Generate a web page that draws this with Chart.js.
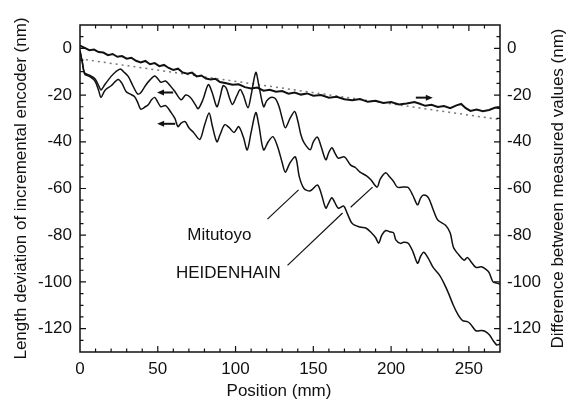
<!DOCTYPE html>
<html>
<head>
<meta charset="utf-8">
<script src="https://cdn.jsdelivr.net/npm/chart.js@4/dist/chart.umd.min.js"></script>
<style>
  html, body { margin: 0; padding: 0; background: #fff; }
  #wrap { width: 570px; height: 405px; }
</style>
</head>
<body>
<div id="wrap"><canvas id="chart"></canvas></div>
<script>
// upper curve (HEIDENHAIN), left axis
const posHeid = [0, 1.5, 3, 6, 9.6, 12, 13.5, 16, 20, 23, 26, 28, 31, 34, 37, 39, 42, 45, 48, 50, 52, 55, 58, 61, 65, 68, 71, 74, 76, 79, 82.5, 85, 88, 90, 92, 94, 96, 98, 101, 103, 105, 108, 110, 113, 115, 118, 120, 122.5, 125.5, 128, 130, 132, 135, 138, 140, 142, 144, 148, 150, 152.6, 155, 158, 160, 162, 164, 166, 170, 174, 177, 180, 184, 187, 191, 193, 196.5, 199, 201.6, 204, 208, 211, 214, 217, 219, 221, 224, 227, 230, 235, 238, 240, 243, 247, 249, 251, 254.5, 258, 261, 263, 265.5, 268, 270];
const devHeid = [-1, -6, -10.5, -11.5, -13, -16, -17.8, -15.5, -12, -10, -8.8, -10, -12, -16, -19.5, -19, -16, -13.5, -11.8, -13, -14.5, -14, -16, -18.5, -22, -20, -21, -24, -25.8, -22, -15.5, -19, -25, -21, -16, -17, -21, -24, -20, -17.6, -20, -25.4, -20, -10.3, -16, -25, -22.5, -21, -21.5, -25, -30, -34, -30, -27, -31, -37, -40.4, -43.4, -40, -38, -42, -47.7, -44.5, -42.6, -45, -47, -46.5, -50, -51, -53, -54.5, -56.3, -59.4, -56, -53.3, -55, -57, -59.4, -59.4, -59.6, -63, -67, -64, -62.8, -64, -69, -73.5, -75.7, -79, -85, -88, -90.7, -89.5, -91, -93.8, -93.5, -94.6, -96, -100, -100.5, -101];

// lower curve (Mitutoyo), left axis
const posMitu = [0, 1.5, 3, 6, 9.6, 12, 13.5, 16, 20, 24.5, 27, 29.6, 32, 35, 37, 39, 42, 44, 46, 48, 50, 52, 55, 58.6, 61, 63, 65, 67.6, 70, 73, 77, 80, 83, 85, 88, 90, 93, 96, 99, 102, 105, 107.5, 110, 113, 115, 118, 121, 124, 127, 130, 132, 135, 138.5, 141, 144, 148, 152.6, 155, 158, 160, 162, 166, 169.5, 172, 175, 180, 184, 187, 190, 192, 194, 196.5, 199, 201.6, 203, 206, 208, 211, 214, 217, 219, 221, 224, 227, 231, 234, 237, 240, 243, 246, 249, 251, 254.5, 258, 260, 263, 265.5, 268, 270];
const devMitu = [-1, -6, -11, -12, -14, -18, -21, -18, -16, -13.3, -15, -18.5, -19.5, -20.6, -23, -26, -25, -24, -22, -21, -23, -25, -24.5, -27.5, -30, -33.5, -32, -31.4, -34, -36, -39, -33, -27.7, -33, -40, -37, -32.7, -34, -36, -33.5, -38, -43.5, -36, -27.5, -33, -43.5, -40, -37.8, -42, -49, -53, -49, -46.5, -55, -60, -61, -58.5, -62, -68.4, -66, -64, -68.4, -67.5, -71, -75, -76.5, -77, -78.7, -81, -83.4, -80, -78, -78.5, -79, -82, -83.5, -83, -83.4, -87, -92, -89, -87.3, -90, -93.8, -97, -100.6, -105, -110, -114, -116.6, -117, -118, -120.9, -120.8, -121, -122.5, -125, -127, -126.5];

// difference between measured values, right axis
const posDiff = [0, 3, 6, 9, 12, 15, 18, 21, 24, 27, 30, 33, 36, 39, 42, 45, 48, 51, 54, 57, 60, 63, 66, 69, 72, 75, 78, 81, 84, 87, 90, 94, 98, 102, 106, 110, 114, 118, 122, 126, 130, 134, 138, 142, 146, 150, 155, 160, 165, 170, 175, 180, 185, 190, 195, 200, 205, 210, 215, 218, 222, 226, 230, 234, 238, 242, 245, 248, 251, 255, 259, 263, 267, 270];
const diffVal = [1.2, 0.2, -0.8, -0.5, -1.6, -1.8, -2.9, -2.4, -3.6, -3.3, -4.4, -4.0, -5.3, -6.0, -5.4, -6.8, -6.3, -7.6, -7.1, -8.4, -9.2, -8.7, -10.3, -10.9, -10.4, -12.0, -11.6, -12.9, -13.3, -13.0, -14.4, -14.9, -15.6, -15.4, -16.6, -17.2, -16.8, -18.1, -17.7, -18.6, -18.3, -19.4, -18.9, -19.8, -19.3, -20.3, -20.0, -21.1, -20.7, -21.8, -22.2, -21.7, -22.9, -22.4, -23.4, -23.0, -24.0, -23.6, -23.0, -23.6, -24.6, -24.2, -25.1, -24.7, -25.6, -24.4, -23.8, -25.6, -26.8, -26.2, -26.9, -26.4, -25.3, -25.7];

// dotted linear trend of the difference
const trendPos = [0, 270];
const trendVal = [-4.5, -30.5];

// axis ticks
const xTicks = [0, 50, 100, 150, 200, 250];
const yTicks = [-120, -100, -80, -60, -40, -20, 0];

// annotations (data coordinates)
const labelText = ["Mitutoyo", "HEIDENHAIN"];
const labelPos = [[89.6, -80], [95.4, -96.3]];
const leaderLines = [
  [[120.5, -73.1], [140.5, -60.6]],
  [[133.4, -92.9], [168.8, -70.5]],
  [[174.0, -68.0], [188.1, -59.4]],
];
const arrowsLeft = [[[59.9, -18.9], [49.5, -18.9]], [[61.2, -32.3], [49.6, -32.3]]];
const arrowsRight = [[[215.9, -21.1], [226.8, -21.1]]];

const FONT = 'Arial, "Liberation Sans", sans-serif';
Chart.defaults.font.family = FONT;
Chart.defaults.font.size = 17;
Chart.defaults.color = "#111";

const toPts = (xs, ys) => xs.map((x, i) => ({ x, y: ys[i] }));

function drawArrow(ctx, x1, y1, x2, y2) {
  const dir = Math.sign(x2 - x1);
  ctx.beginPath();
  ctx.moveTo(x1, y1);
  ctx.lineTo(x2 - dir * 5, y2);
  ctx.lineWidth = 2;
  ctx.stroke();
  ctx.beginPath();
  ctx.moveTo(x2, y2);
  ctx.lineTo(x2 - dir * 7, y2 - 3);
  ctx.lineTo(x2 - dir * 7, y2 + 3);
  ctx.closePath();
  ctx.fill();
}

const framePlugin = {
  id: "frame",
  afterDraw(chart) {
    const { ctx, chartArea: a, scales } = chart;
    const sx = scales.x, sy = scales.y, sy2 = scales.y2;
    ctx.save();
    ctx.strokeStyle = "#111";
    ctx.fillStyle = "#111";

    // box
    ctx.lineWidth = 1.5;
    ctx.strokeRect(a.left, a.top, a.right - a.left, a.bottom - a.top);

    // inward ticks, bottom and top
    ctx.lineWidth = 1.2;
    for (let v = 10; v < 270; v += 10) {
      const px = sx.getPixelForValue(v);
      const len = v % 50 === 0 ? 6 : 3.5;
      ctx.beginPath();
      ctx.moveTo(px, a.bottom); ctx.lineTo(px, a.bottom - len);
      ctx.moveTo(px, a.top); ctx.lineTo(px, a.top + len);
      ctx.stroke();
    }
    // inward ticks, left and right
    for (let v = -125; v < 10; v += 5) {
      const len = v % 20 === 0 ? 6 : 3.5;
      const pl = sy.getPixelForValue(v);
      const pr = sy2.getPixelForValue(v);
      ctx.beginPath();
      ctx.moveTo(a.left, pl); ctx.lineTo(a.left + len, pl);
      ctx.moveTo(a.right, pr); ctx.lineTo(a.right - len, pr);
      ctx.stroke();
    }

    // leader lines
    ctx.lineWidth = 1.2;
    leaderLines.forEach(([p, q]) => {
      ctx.beginPath();
      ctx.moveTo(sx.getPixelForValue(p[0]), sy.getPixelForValue(p[1]));
      ctx.lineTo(sx.getPixelForValue(q[0]), sy.getPixelForValue(q[1]));
      ctx.stroke();
    });

    // arrows
    arrowsLeft.forEach(([p, q]) => drawArrow(ctx,
      sx.getPixelForValue(p[0]), sy.getPixelForValue(p[1]),
      sx.getPixelForValue(q[0]), sy.getPixelForValue(q[1])));
    arrowsRight.forEach(([p, q]) => drawArrow(ctx,
      sx.getPixelForValue(p[0]), sy2.getPixelForValue(p[1]),
      sx.getPixelForValue(q[0]), sy2.getPixelForValue(q[1])));

    // curve labels
    ctx.font = "17px " + FONT;
    ctx.textAlign = "center";
    ctx.textBaseline = "middle";
    labelText.forEach((txt, i) => {
      ctx.fillText(txt, sx.getPixelForValue(labelPos[i][0]), sy.getPixelForValue(labelPos[i][1]));
    });

    // x axis title (sits a little left of the plot centre in the original)
    ctx.fillText("Position (mm)", 279, 391);

    // right axis title, reading bottom to top
    ctx.translate(558, (a.top + a.bottom) / 2);
    ctx.rotate(-Math.PI / 2);
    ctx.fillText("Difference between measured values (nm)", 0, 0);
    ctx.restore();
  },
};

const lineStyle = {
  showLine: true,
  pointRadius: 0,
  borderColor: "#111",
  borderWidth: 1.5,
  tension: 0.3,
  fill: false,
};

new Chart(document.getElementById("chart"), {
  type: "scatter",
  data: {
    datasets: [
      { ...lineStyle, label: "HEIDENHAIN", data: toPts(posHeid, devHeid), yAxisID: "y" },
      { ...lineStyle, label: "Mitutoyo", data: toPts(posMitu, devMitu), yAxisID: "y" },
      { ...lineStyle, label: "Difference", data: toPts(posDiff, diffVal), yAxisID: "y2", borderWidth: 2, tension: 0 },
      { ...lineStyle, label: "Trend", data: toPts(trendPos, trendVal), yAxisID: "y2",
        borderColor: "#777", borderWidth: 1.5, borderDash: [2, 4], tension: 0 },
    ],
  },
  options: {
    responsive: true,
    maintainAspectRatio: false,
    animation: false,
    layout: { padding: { top: 25, left: 0, right: 0, bottom: 0 } },
    plugins: { legend: { display: false }, tooltip: { enabled: false } },
    scales: {
      x: {
        type: "linear",
        min: 0,
        max: 270,
        afterBuildTicks: (s) => { s.ticks = xTicks.map((v) => ({ value: v })); },
        afterFit: (s) => { s.height = 53; },
        grid: { display: false, drawTicks: false },
        border: { display: false },
        ticks: { padding: 7, maxRotation: 0, color: "#111" },
      },
      y: {
        position: "left",
        min: -130,
        max: 10,
        afterBuildTicks: (s) => { s.ticks = yTicks.map((v) => ({ value: v })); },
        afterFit: (s) => { s.width = 80; },
        grid: { display: false, drawTicks: false },
        border: { display: false },
        ticks: { padding: 8, color: "#111" },
        title: { display: true, text: "Length deviation of incremental encoder (nm)", padding: { top: 11, bottom: 0 }, color: "#111" },
      },
      y2: {
        position: "right",
        min: -130,
        max: 10,
        afterBuildTicks: (s) => { s.ticks = yTicks.map((v) => ({ value: v })); },
        afterFit: (s) => { s.width = 70; },
        grid: { display: false, drawTicks: false },
        border: { display: false },
        ticks: { padding: 7, color: "#111" },
      },
    },
  },
  plugins: [framePlugin],
});
</script>
</body>
</html>
